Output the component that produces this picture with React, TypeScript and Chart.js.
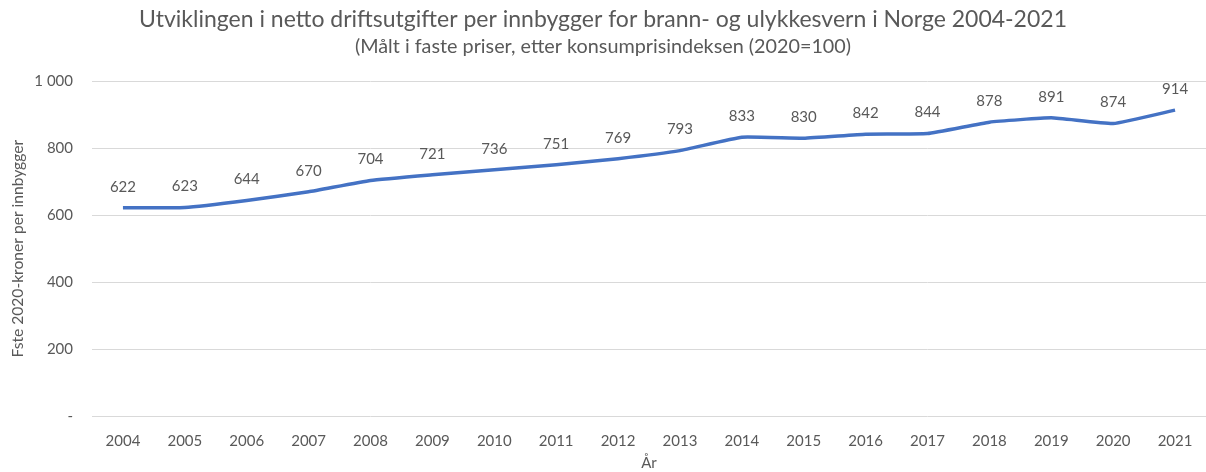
import React, { useEffect, useRef } from "react";
import { Chart, registerables } from "chart.js";

Chart.register(...registerables);

const years = ["2004","2005","2006","2007","2008","2009","2010","2011","2012","2013","2014","2015","2016","2017","2018","2019","2020","2021"];
const values = [622, 623, 644, 670, 704, 721, 736, 751, 769, 793, 833, 830, 842, 844, 878, 891, 874, 914];
const yTickLabels: Record<number, string> = { 0: "-", 200: "200", 400: "400", 600: "600", 800: "800", 1000: "1 000" };

const titleText = "Utviklingen i netto driftsutgifter per innbygger for brann- og ulykkesvern i Norge 2004-2021";
const subtitleText = "(Målt i faste priser, etter konsumprisindeksen (2020=100)";
const yTitle = "Fste 2020-kroner per innbygger";
const xTitle = "År";

const FONT = "Lato, 'Open Sans', sans-serif";
const GREY = "#595959";

const labelPlugin = {
  id: "pointLabels",
  afterDatasetsDraw(chart: any) {
    const ctx = chart.ctx;
    const meta = chart.getDatasetMeta(0);
    ctx.save();
    ctx.font = `15px ${FONT}`;
    ctx.fillStyle = GREY;
    ctx.textAlign = "center";
    ctx.textBaseline = "middle";
    meta.data.forEach((pt: any, i: number) => {
      ctx.fillText(String(values[i]), pt.x, pt.y - 21);
    });
    ctx.restore();
  },
};

export default function App() {
  const ref = useRef<HTMLCanvasElement>(null);
  useEffect(() => {
    if (!ref.current) return;
    const chart = new Chart(ref.current, {
      type: "line",
      data: {
        labels: years,
        datasets: [
          {
            data: values,
            borderColor: "#4472C4",
            borderWidth: 3.5,
            pointRadius: 0,
            tension: 0.12,
            fill: false,
          },
        ],
      },
      options: {
        responsive: false,
        animation: false,
        layout: { padding: { left: 0, right: 0, top: 0, bottom: 0 } },
        plugins: {
          legend: { display: false },
          tooltip: { enabled: false },
          title: {
            display: true,
            text: titleText,
            color: GREY,
            font: { family: FONT, size: 23, weight: "normal" },
            padding: { top: 6, bottom: 1 },
          },
          subtitle: {
            display: true,
            text: subtitleText,
            color: GREY,
            font: { family: FONT, size: 19.8, weight: "normal" },
            padding: { top: 0, bottom: 23 },
          },
        },
        scales: {
          x: {
            offset: true,
            grid: { display: false },
            border: { display: false },
            ticks: { color: GREY, font: { family: FONT, size: 15 }, padding: 8, maxRotation: 0, autoSkip: false },
            title: { display: true, text: xTitle, color: GREY, font: { family: FONT, size: 15 }, padding: { top: 4, bottom: 0 } },
            afterFit(scale: any) { scale.height = 56; },
          },
          y: {
            min: 0,
            max: 1000,
            grid: { color: "#d9d9d9", lineWidth: 1, drawTicks: false },
            border: { display: false },
            ticks: {
              stepSize: 200,
              color: GREY,
              font: { family: FONT, size: 15 },
              padding: 19,
              callback: (v: any) => yTickLabels[v as number] ?? String(v),
            },
            title: { display: true, text: yTitle, color: GREY, font: { family: FONT, size: 15.6 }, padding: { top: 9, bottom: 0 } },
            afterFit(scale: any) { scale.width = 92; },
          },
        },
      },
      plugins: [labelPlugin],
    });
    return () => chart.destroy();
  }, []);
  return (
    <div style={{ position: "fixed", left: 0, top: 0, width: 1206, height: 472, background: "#fff" }}>
      <canvas ref={ref} width={1206} height={472} style={{ width: 1206, height: 472 }} />
    </div>
  );
}
